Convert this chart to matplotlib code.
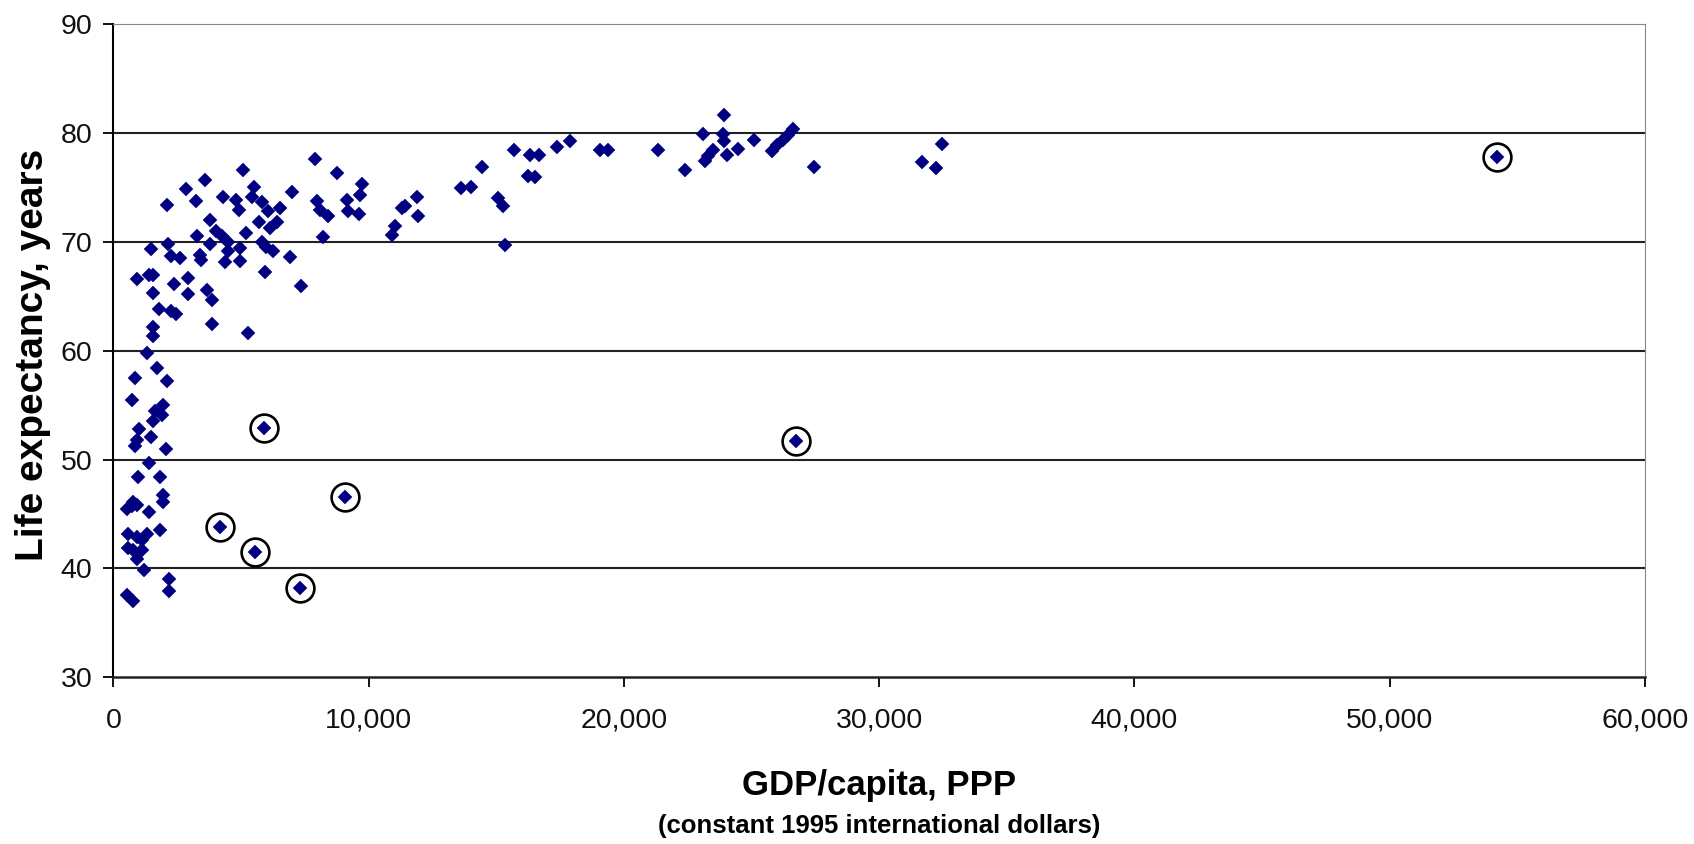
import numpy as np
import matplotlib
matplotlib.use("Agg")
import matplotlib.pyplot as plt
from matplotlib import font_manager
from matplotlib.ticker import FuncFormatter

# GDP per capita (PPP, constant 1995 intl $) and life expectancy
gdp = [7900, 5060, 8750, 3590, 2840, 5520, 9750, 7010, 4310, 4800,
       3220, 2090, 5420, 5810, 4920, 6530, 7990, 9140, 9660, 6070,
       8090, 8420, 9200, 9630, 3780, 6400, 6130, 5720, 4040, 4240,
       5180, 3260, 4500, 3780, 5810, 8220, 4960, 2130, 1460, 3390,
       2260, 2610, 4480, 4370, 4960, 5980, 6270, 6940, 3420, 5940,
       940, 1410, 1560, 2370, 2930, 1560, 2910, 3650, 3870, 7350,
       1800, 2240, 2450, 3850, 1560, 1540, 5260,
       1300, 1700, 850, 2090, 720, 1630, 1960, 1890, 1540, 1020,
       1460, 910, 850, 2060, 1410, 980, 1830, 1960, 1930, 780,
       720, 910, 520, 1410, 1830, 580, 910, 1300, 1110, 580,
       780, 1110, 910, 1200, 2190, 2190, 520, 780,
       10900, 11030, 11290, 11420, 11880, 11940, 13600, 14030, 14460, 15080,
       15270, 15360, 15690, 16320, 16680, 16250, 16510, 17360, 17880, 19060,
       19360, 21340, 22390, 23100, 23170, 23300, 23500, 23910, 23890, 23930,
       24050, 24480, 25090, 25820, 25980, 26240, 26430, 26630, 27440,
       31690, 32240, 32470]
life = [77.6, 76.6, 76.3, 75.7, 74.8, 75.0, 75.3, 74.6, 74.1, 73.8,
        73.7, 73.4, 74.1, 73.6, 72.9, 73.1, 73.7, 73.8, 74.3, 72.8,
        72.9, 72.4, 72.8, 72.5, 72.0, 71.8, 71.3, 71.8, 71.0, 70.5,
        70.8, 70.5, 70.0, 69.8, 70.0, 70.4, 69.4, 69.8, 69.3, 68.8,
        68.7, 68.5, 69.1, 68.1, 68.2, 69.5, 69.1, 68.6, 68.3, 67.2,
        66.6, 66.9, 66.9, 66.1, 66.7, 65.3, 65.2, 65.6, 64.6, 65.9,
        63.8, 63.6, 63.4, 62.4, 62.2, 61.3, 61.6,
        59.8, 58.4, 57.5, 57.2, 55.5, 54.5, 55.0, 54.1, 53.5, 52.8,
        52.1, 51.8, 51.2, 51.0, 49.7, 48.4, 48.4, 46.7, 46.1, 46.1,
        45.7, 45.8, 45.5, 45.2, 43.5, 43.2, 42.9, 43.2, 42.6, 41.9,
        41.7, 41.7, 40.9, 39.9, 39.0, 37.9, 37.6, 37.0,
        70.6, 71.4, 73.1, 73.3, 74.1, 72.4, 74.9, 75.0, 76.9, 74.0,
        73.3, 69.7, 78.4, 78.0, 78.0, 76.0, 75.9, 78.7, 79.2, 78.4,
        78.4, 78.4, 76.6, 79.9, 77.4, 77.9, 78.4, 81.6, 79.9, 79.2,
        78.0, 78.5, 79.3, 78.3, 78.9, 79.3, 79.8, 80.3, 76.9,
        77.3, 76.8, 79.0]

# circled outliers
gdp_out = [4180, 5550, 5900, 7310, 9070, 26760, 54220]
life_out = [43.8, 41.5, 52.9, 38.2, 46.6, 51.7, 77.8]

xticks = [0, 10000, 20000, 30000, 40000, 50000, 60000]
yticks = [30, 40, 50, 60, 70, 80, 90]

plt.rcParams["font.family"] = ["Liberation Sans", "DejaVu Sans"]

# tick labels in the original are set in a narrow face; use it if present
names = {f.name for f in font_manager.fontManager.ttflist}
if "Liberation Sans Narrow" in names:
    tick_font, tick_size = "Liberation Sans Narrow", 23
else:
    tick_font, tick_size = "Liberation Sans", 20.5

fig = plt.figure(figsize=(16.94, 8.44), dpi=100)
ax = fig.add_axes([0.0669, 0.1974, 0.9042, 0.7744])

for v in yticks[1:-1]:
    ax.axhline(v, color="#222222", lw=1.5, zorder=1)

ax.plot(gdp + gdp_out, life + life_out, ls="none", marker="D", ms=6.7,
        mfc="#000080", mec="#000080", mew=0.3, zorder=3)
ax.plot(gdp_out, life_out, ls="none", marker="o", ms=20, mfc="none",
        mec="black", mew=1.9, zorder=4)

ax.set_xlim(0, 60000)
ax.set_ylim(30, 90)
ax.set_xticks(xticks)
ax.set_yticks(yticks)
ax.xaxis.set_major_formatter(FuncFormatter(lambda v, p: f"{int(v):,}"))
ax.tick_params(axis="both", direction="out", length=7, width=1.3, color="black",
               labelsize=tick_size, labelcolor="#111111")
ax.tick_params(axis="x", pad=15)
ax.tick_params(axis="y", pad=8)
for lab in ax.get_xticklabels() + ax.get_yticklabels():
    lab.set_fontfamily([tick_font, "DejaVu Sans"])

ax.spines["left"].set_color("black")
ax.spines["left"].set_linewidth(1.5)
ax.spines["bottom"].set_color("#222222")
ax.spines["bottom"].set_linewidth(1.8)
ax.spines["top"].set_color("#888888")
ax.spines["top"].set_linewidth(0.8)
ax.spines["right"].set_color("#888888")
ax.spines["right"].set_linewidth(0.8)

fig.text(0.519, 0.058, "GDP/capita, PPP", ha="center", va="baseline",
         fontsize=25, fontweight="bold")
fig.text(0.519, 0.013, "(constant 1995 international dollars)", ha="center",
         va="baseline", fontsize=18.5, fontweight="bold")
fig.text(0.0195, 0.58, "Life expectancy, years", ha="center", va="center",
         rotation=90, fontsize=28, fontweight="bold")

fig.savefig("out.png", dpi=100)
